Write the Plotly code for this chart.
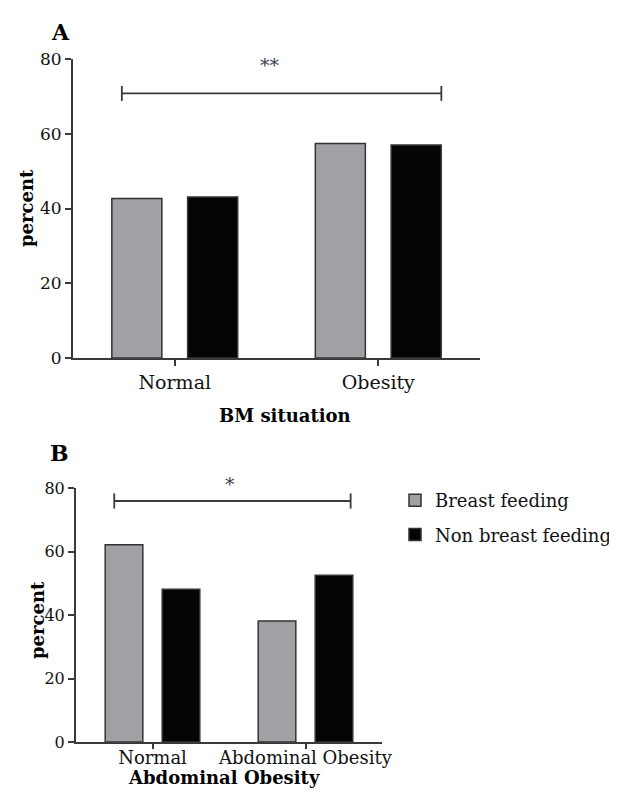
import plotly.graph_objects as go

# ---- data ----
cats_a = ["Normal", "Obesity"]
breast_a = [42.7, 57.4]
nonbreast_a = [43.1, 57.0]

cats_b = ["Normal", "Abdominal Obesity"]
breast_b = [62.1, 38.1]
nonbreast_b = [48.1, 52.5]

series_names = ["Breast feeding", "Non breast feeding"]
y_ticks = [0, 20, 40, 60, 80]

# significance brackets: [x_start, x_end, y, label]
sig_a = [-0.26, 1.31, 70.8, "**"]
sig_b = [-0.25, 1.295, 75.9, "*"]

W, H = 617, 795
OFF = 8  # default page body margin
GRAY = "#a1a1a5"
BLACK = "#050505"
EDGE = "#333333"
AX = "#3a3a3a"
FONT = "DejaVu Serif"

def px(x):
    return (x - OFF) / W

def py(y):
    return 1 - (y - OFF) / H

fig = go.Figure()

for cats, b, nb, xa, ya, show in [
    (cats_a, breast_a, nonbreast_a, "x", "y", True),
    (cats_b, breast_b, nonbreast_b, "x2", "y2", False),
]:
    fig.add_trace(go.Bar(x=cats, y=b, name=series_names[0], xaxis=xa, yaxis=ya,
                         marker=dict(color=GRAY, line=dict(color=EDGE, width=1.5)),
                         showlegend=show, legendgroup="g1", offsetgroup="1"))
    fig.add_trace(go.Bar(x=cats, y=nb, name=series_names[1], xaxis=xa, yaxis=ya,
                         marker=dict(color=BLACK, line=dict(color=EDGE, width=1.5)),
                         showlegend=show, legendgroup="g2", offsetgroup="2"))

# significance brackets
cap_a, cap_b = 2.0, 2.4
for sig, cap, xa, ya in [(sig_a, cap_a, "x", "y"), (sig_b, cap_b, "x2", "y2")]:
    x0, x1, yv, lab = sig
    fig.add_shape(type="line", xref=xa, yref=ya, x0=x0, x1=x1, y0=yv, y1=yv,
                  line=dict(color=AX, width=1.8))
    for xx in (x0, x1):
        fig.add_shape(type="line", xref=xa, yref=ya, x0=xx, x1=xx, y0=yv - cap, y1=yv + cap,
                      line=dict(color=AX, width=1.8))

C = dict(xanchor="center", yanchor="middle", showarrow=False)
ann = []
ann.append(dict(C, text=sig_a[3], x=0.47, y=76.5, yshift=7, xref="x", yref="y",
                font=dict(family=FONT, size=19, color="#3a4152")))
ann.append(dict(C, text=sig_b[3], x=0.506, y=79.0, yshift=7, xref="x2", yref="y2",
                font=dict(family=FONT, size=19, color="#3a4152")))
# panel labels
ann.append(dict(C, text="<b>A</b>", x=px(60), y=py(32), xref="paper", yref="paper",
                font=dict(family=FONT, size=22, color="black")))
ann.append(dict(C, text="<b>B</b>", x=px(59), y=py(453), xref="paper", yref="paper",
                font=dict(family=FONT, size=22, color="black")))
# axis titles
ann.append(dict(C, text="<b>percent</b>", x=px(27), y=py(208), xref="paper", yref="paper",
                textangle=-90, font=dict(family=FONT, size=18, color="black")))
ann.append(dict(C, text="<b>percent</b>", x=px(37), y=py(620), xref="paper", yref="paper",
                textangle=-90, font=dict(family=FONT, size=18, color="black")))
ann.append(dict(C, text="<b>BM situation</b>", x=px(285), y=py(415), xref="paper", yref="paper",
                font=dict(family=FONT, size=18, color="black")))
ann.append(dict(C, text="<b>Abdominal Obesity</b>", x=px(224), y=py(777), xref="paper", yref="paper",
                font=dict(family=FONT, size=18, color="black")))

xcommon = dict(type="category", range=[-0.5, 1.5], showline=True, linecolor=AX, linewidth=2,
               ticks="outside", ticklen=6, tickwidth=2, tickcolor=AX, showgrid=False,
               zeroline=False, automargin=False, fixedrange=True)
ycommon = dict(range=[0, 80], tickvals=y_ticks, showline=True, linecolor=AX, linewidth=2,
               ticks="outside", ticklen=6, tickwidth=2, tickcolor=AX, showgrid=False,
               zeroline=False, automargin=False, fixedrange=True)

fig.update_layout(
    width=W, height=H,
    margin=dict(l=0, r=0, t=0, b=0),
    paper_bgcolor="white", plot_bgcolor="white",
    barmode="group", bargap=0.255, bargroupgap=0.34,
    font=dict(family=FONT, color="black"),
    xaxis=dict(xcommon, domain=[px(73), px(480)], anchor="y",
               tickfont=dict(family=FONT, size=19, color="#111")),
    yaxis=dict(ycommon, domain=[py(358), py(59)], anchor="x",
               tickfont=dict(family=FONT, size=17, color="#111")),
    xaxis2=dict(xcommon, domain=[px(76), px(382)], anchor="y2", ticklen=5,
                ticklabelstandoff=-7,
                tickfont=dict(family=FONT, size=18, color="#111")),
    yaxis2=dict(ycommon, domain=[py(742), py(488)], anchor="x2",
                tickfont=dict(family=FONT, size=16, color="#111")),
    legend=dict(x=px(395), y=py(482), xanchor="left", yanchor="top",
                font=dict(family=FONT, size=18, color="#111"),
                tracegroupgap=8, bgcolor="rgba(0,0,0,0)"),
    annotations=ann,
)

fig.write_html("out.html")
